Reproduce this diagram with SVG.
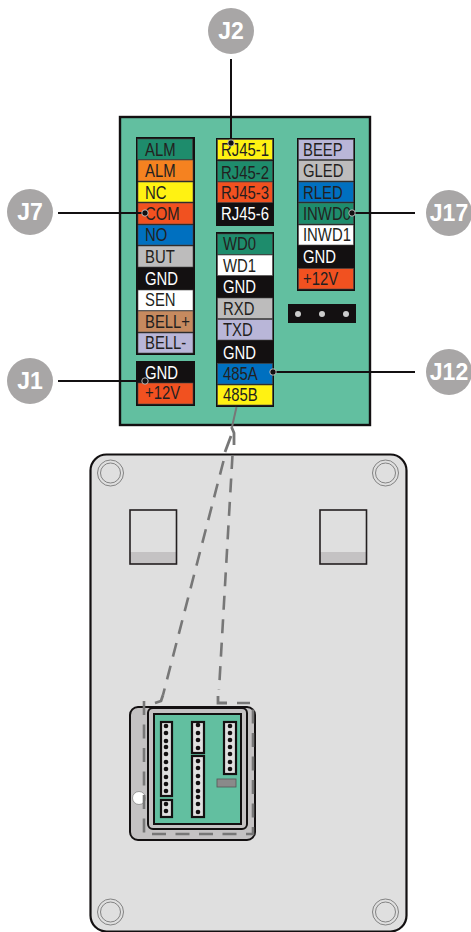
<svg xmlns="http://www.w3.org/2000/svg" width="471" height="932" viewBox="0 0 471 932">
<style>
text{font-family:"Liberation Sans",Arial,sans-serif}
.l,.w{font-size:17.500px;transform-box:fill-box;transform-origin:0 50%;transform:scaleX(.85)}
.l{fill:#231f20}
.w{fill:#fff}
.c{fill:#a8a6a6}
.ct{font-size:23px;font-weight:bold;fill:#fff;text-anchor:middle}
.r{stroke:#4a4a4a;stroke-width:.6}
.g{fill:#1e8c6c}.o{fill:#f58220}.y{fill:#fff212}.e{fill:#f15120}.b{fill:#0070c0}.s{fill:#bdbcbc}.n{fill:#fff}.t{fill:#c68a5f}.v{fill:#b9b6d8}
.box{fill:#131011}
.sc{fill:none;stroke:#777;stroke-width:.9}
.st{fill:#dfdfdf;stroke:#131011;stroke-width:2.2}
.d{fill:#131011}
.lead{fill:none;stroke:#131011;stroke-width:2}
.end{fill:#131011;stroke:#ddd;stroke-width:.8}
.dash{fill:none;stroke:#777;stroke-width:2.6;stroke-dasharray:14 9.500}
.solid{fill:none;stroke:#777;stroke-width:2.800}
</style>
<g id="back-plate">
<rect x="90.500" y="454.500" width="316" height="477" rx="16" fill="#dfdfdf" stroke="#131011" stroke-width="2.2"/>
<circle class="sc" cx="110.500" cy="473" r="13"/><circle class="sc" cx="110.500" cy="473" r="10"/>
<circle class="sc" cx="385.500" cy="473" r="13"/><circle class="sc" cx="385.500" cy="473" r="10"/>
<circle class="sc" cx="110.500" cy="912" r="13"/><circle class="sc" cx="110.500" cy="912" r="10"/>
<circle class="sc" cx="385.500" cy="912" r="13"/><circle class="sc" cx="385.500" cy="912" r="10"/>
<rect x="130" y="552" width="46.500" height="12" fill="#c4c2c3"/><rect x="130" y="510" width="46.500" height="54" fill="none" stroke="#231f20" stroke-width="1.6"/>
<rect x="320" y="552" width="46.500" height="12" fill="#c4c2c3"/><rect x="320" y="510" width="46.500" height="54" fill="none" stroke="#231f20" stroke-width="1.6"/>
</g>
<g id="module">
<rect x="130" y="707" width="125" height="133" rx="8" fill="#c4c2c3" stroke="#131011" stroke-width="2"/>
<rect x="148" y="708" width="99" height="121" rx="5" fill="#c4c2c3" stroke="#131011" stroke-width="2"/>
<rect x="154" y="714" width="87" height="110" fill="#62bfa0" stroke="#131011" stroke-width="2"/>
<rect class="st" x="161" y="722" width="11" height="74"/>
<rect class="st" x="161" y="800" width="11" height="17"/>
<rect class="st" x="192" y="722" width="12" height="31"/>
<rect class="st" x="192" y="756" width="12" height="61"/>
<rect class="st" x="224" y="722" width="12" height="52"/>
<rect x="217" y="779" width="19" height="8" fill="#8a8a8a" stroke="#555" stroke-width=".8"/>
<g class="d">
<circle cx="166" cy="726" r="2.300"/><circle cx="166" cy="733" r="2.300"/><circle cx="166" cy="741" r="2.300"/><circle cx="166" cy="747" r="2.300"/><circle cx="166" cy="754" r="2.300"/><circle cx="166" cy="762" r="2.300"/><circle cx="166" cy="769" r="2.300"/><circle cx="166" cy="777" r="2.300"/><circle cx="166" cy="784" r="2.300"/><circle cx="166" cy="791" r="2.300"/>
<circle cx="166" cy="804" r="2.300"/><circle cx="166" cy="811" r="2.300"/>
<circle cx="198" cy="725" r="2.300"/><circle cx="198" cy="733" r="2.300"/><circle cx="198" cy="740" r="2.300"/><circle cx="198" cy="748" r="2.300"/>
<circle cx="198" cy="761" r="2.300"/><circle cx="198" cy="768" r="2.300"/><circle cx="198" cy="776" r="2.300"/><circle cx="198" cy="783" r="2.300"/><circle cx="198" cy="791" r="2.300"/><circle cx="198" cy="797" r="2.300"/><circle cx="198" cy="804" r="2.300"/><circle cx="198" cy="812" r="2.300"/>
<circle cx="230" cy="726" r="2.300"/><circle cx="230" cy="733" r="2.300"/><circle cx="230" cy="740" r="2.300"/><circle cx="230" cy="747" r="2.300"/><circle cx="230" cy="754" r="2.300"/><circle cx="230" cy="762" r="2.300"/><circle cx="230" cy="769" r="2.300"/>
</g>
<circle cx="139" cy="798" r="6.500" fill="#fff" stroke="#888" stroke-width=".8"/>
</g>
<g id="board">
<rect x="120" y="117" width="250" height="308" fill="#62bfa0" stroke="#131011" stroke-width="2.4"/>
</g>
<g id="J7-block">
<rect class="box" x="136" y="137" width="59" height="218"/>
<rect class="g r" x="137.500" y="139" width="55" height="20.500"/><text class="l" x="145" y="156">ALM</text>
<rect class="o r" x="138" y="160" width="55" height="21"/><text class="l" x="145" y="177">ALM</text>
<rect class="y r" x="138" y="182" width="55" height="20"/><text class="l" x="145" y="199">NC</text>
<rect class="e r" x="138" y="203" width="55" height="21"/><text class="l" x="145" y="220.500">COM</text>
<rect class="b r" x="138" y="225" width="55" height="20"/><text class="l" x="145" y="241.500">NO</text>
<rect class="s r" x="138" y="246" width="55" height="21"/><text class="l" x="145" y="263">BUT</text>
<text class="w" x="145" y="285">GND</text>
<rect class="n r" x="138" y="290" width="55" height="20.500"/><text class="l" x="145" y="306.500">SEN</text>
<rect class="t r" x="138" y="311" width="55" height="21"/><text class="l" x="145" y="328">BELL+</text>
<rect class="v r" x="138" y="333" width="55" height="20"/><text class="l" x="145" y="349">BELL-</text>
</g>
<g id="J1-block">
<rect class="box" x="136" y="361" width="59" height="45"/>
<text class="w" x="145" y="379">GND</text>
<rect class="e r" x="138" y="383" width="55" height="21"/><text class="l" x="145" y="399">+12V</text>
</g>
<g id="J2-block">
<rect class="box" x="216" y="138" width="58" height="88"/>
<rect class="y r" x="217.500" y="139.500" width="55" height="20"/><text class="l" x="221" y="156">RJ45-1</text>
<rect class="g r" x="217.500" y="161" width="55" height="20.500"/><text class="l" x="221" y="179">RJ45-2</text>
<rect class="e r" x="217.500" y="182" width="55" height="20.500"/><text class="l" x="221" y="199">RJ45-3</text>
<text class="w" x="221" y="220">RJ45-6</text>
</g>
<g id="J12-block">
<rect class="box" x="216" y="232" width="58" height="175"/>
<rect class="g r" x="217.500" y="234" width="55" height="20.500"/><text class="l" x="223" y="250.500">WD0</text>
<rect class="n r" x="217.500" y="255" width="55" height="20.500"/><text class="l" x="223" y="272">WD1</text>
<text class="w" x="223" y="293">GND</text>
<rect class="s r" x="217.500" y="298" width="55" height="20.500"/><text class="l" x="223" y="315">RXD</text>
<rect class="v r" x="217.500" y="319.500" width="55" height="20.500"/><text class="l" x="223" y="336.500">TXD</text>
<text class="w" x="223" y="359">GND</text>
<rect class="b r" x="217.500" y="363.500" width="55" height="20.500"/><text class="l" x="223" y="380">485A</text>
<rect class="y r" x="217.500" y="385" width="55" height="20"/><text class="l" x="223" y="401.500">485B</text>
</g>
<g id="J17-block">
<rect class="box" x="297" y="138" width="58" height="153"/>
<rect class="v r" x="298.500" y="139.500" width="55" height="20"/><text class="l" x="303" y="156">BEEP</text>
<rect class="s r" x="298.500" y="160.500" width="55" height="20.500"/><text class="l" x="303" y="177">GLED</text>
<rect class="b r" x="298.500" y="182" width="55" height="20"/><text class="l" x="303" y="199">RLED</text>
<rect class="g r" x="298.500" y="203" width="55" height="21"/><text class="l" x="303" y="220">INWD0</text>
<rect class="n r" x="298.500" y="225" width="55" height="20"/><text class="l" x="303" y="241.500">INWD1</text>
<text class="w" x="303" y="263">GND</text>
<rect class="e r" x="298.500" y="268.500" width="55" height="20.500"/><text class="l" x="303" y="285">+12V</text>
</g>
<g id="header">
<rect class="box" x="288" y="304" width="68" height="19"/>
<circle cx="298" cy="314" r="3" fill="#ccc"/><circle cx="322" cy="314" r="3" fill="#ccc"/><circle cx="346" cy="314" r="3" fill="#ccc"/>
</g>
<g id="connectors">
<path d="M236.500 407L232 427" fill="none" stroke="#777" stroke-width="2"/>
<path class="solid" d="M231.500 427L234 433V445"/>
<path class="solid" d="M231 436L225 452"/>
<path class="dash" d="M223.500 461L163 695"/>
<path class="dash" d="M232.500 455L219 690"/>
<path class="solid" d="M163 695L161 701L155 703"/>
<path class="solid" d="M218 696V703H227"/>
<path class="dash" d="M144 701V834H253V703H237"/>
<path class="lead" d="M231 59V142"/>
<path class="lead" d="M58 213H145"/>
<path class="lead" d="M352 213H415"/>
<path class="lead" d="M58 381H145"/>
<path class="lead" d="M273 372H415"/>
<circle class="end" cx="231" cy="143" r="3.200"/>
<circle class="end" cx="145" cy="213" r="3.200"/>
<circle class="end" cx="352" cy="213" r="3.200"/>
<circle class="end" cx="145" cy="381" r="3.200"/>
<circle class="end" cx="273" cy="372" r="3.200"/>
</g>
<g id="J2"><circle class="c" cx="231" cy="31" r="23"/><text class="ct" x="231" y="39">J2</text></g>
<g id="J7"><circle class="c" cx="30" cy="212" r="23"/><text class="ct" x="30" y="220">J7</text></g>
<g id="J1"><circle class="c" cx="30" cy="381" r="23"/><text class="ct" x="30" y="389">J1</text></g>
<g id="J17"><circle class="c" cx="449" cy="213" r="23"/><text class="ct" x="449" y="221">J17</text></g>
<g id="J12"><circle class="c" cx="449" cy="372" r="23"/><text class="ct" x="449" y="380">J12</text></g>
</svg>
